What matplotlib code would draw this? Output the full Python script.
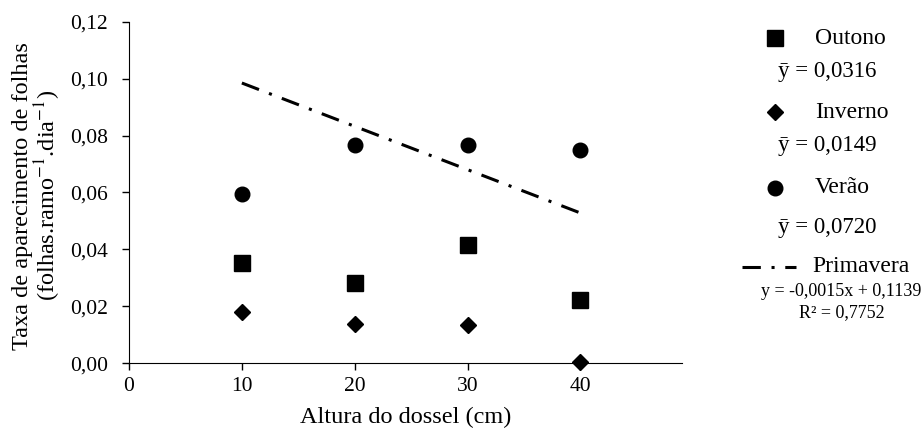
import numpy as np
import matplotlib.pyplot as plt
from matplotlib.lines import Line2D

plt.rcParams['font.family'] = ['Liberation Serif', 'DejaVu Sans']
plt.rcParams['mathtext.fontset'] = 'stix'

# data
altura = [10, 20, 30, 40]
outono = [0.0352, 0.0282, 0.0415, 0.0222]
inverno = [0.0180, 0.0137, 0.0134, 0.0003]
verao = [0.0595, 0.0767, 0.0767, 0.0750]
primavera_x = [10, 40]
primavera_y = [0.0985, 0.0528]
yticks = [0, 0.02, 0.04, 0.06, 0.08, 0.10, 0.12]

dashdot = (0, (6, 3.5, 1, 3.5))

fig = plt.figure(figsize=(9.23, 4.37), dpi=100)
ax = fig.add_axes([0.1398, 0.169, 0.599, 0.781])

ax.plot(altura, outono, 's', color='black', markersize=11, clip_on=False)
ax.plot(altura, inverno, 'D', color='black', markersize=8, clip_on=False)
ax.plot(altura, verao, 'o', color='black', markersize=10.5, clip_on=False)
ax.plot(primavera_x, primavera_y, color='black', lw=2.2, linestyle=dashdot)

ax.set_xlim(0, 49)
ax.set_ylim(0, 0.12)
ax.set_xticks([0, 10, 20, 30, 40])
ax.set_yticks(yticks)
ax.set_yticklabels(['{:.2f}'.format(v).replace('.', ',') for v in yticks])
ax.spines['top'].set_visible(False)
ax.spines['right'].set_visible(False)
ax.tick_params(labelsize=15.5, direction='out', length=5, width=1)
ax.tick_params(axis='y', pad=10)
ax.tick_params(axis='x', pad=5)
ax.set_xlabel('Altura do dossel (cm)', fontsize=17.5, labelpad=8)
ax.set_ylabel('Taxa de aparecimento de folhas\n(folhas.ramo$^{-1}$.dia$^{-1}$)', fontsize=17.5,
              linespacing=0.95)
ax.yaxis.set_label_coords(-0.12, 0.49)

# legend drawn by hand on the right
def fy(p):
    return 1 - p / 437.0

def fx(p):
    return p / 923.0

fig.add_artist(Line2D([fx(775)], [fy(38)], marker='s', color='black', markersize=11, transform=fig.transFigure))
fig.text(fx(815), fy(38), 'Outono', fontsize=17, va='center')
fig.text(fx(827), fy(71), 'ȳ = 0,0316', fontsize=16.5, va='center', ha='center')
fig.add_artist(Line2D([fx(775)], [fy(112)], marker='D', color='black', markersize=8, transform=fig.transFigure))
fig.text(fx(815), fy(112), 'Inverno', fontsize=17, va='center')
fig.text(fx(827), fy(146), 'ȳ = 0,0149', fontsize=16.5, va='center', ha='center')
fig.add_artist(Line2D([fx(775)], [fy(188)], marker='o', color='black', markersize=10.5, transform=fig.transFigure))
fig.text(fx(815), fy(188), 'Verão', fontsize=17, va='center')
fig.text(fx(827), fy(228), 'ȳ = 0,0720', fontsize=16.5, va='center', ha='center')
fig.add_artist(Line2D([fx(742), fx(796)], [fy(267), fy(267)], color='black', lw=2.2,
                      linestyle=dashdot, transform=fig.transFigure))
fig.text(fx(812), fy(267), 'Primavera', fontsize=17, va='center')
fig.text(fx(841), fy(292), 'y = -0,0015x + 0,1139', fontsize=13, va='center', ha='center')
fig.text(fx(842), fy(313), 'R² = 0,7752', fontsize=13, va='center', ha='center')

fig.savefig('out.png', dpi=100)
